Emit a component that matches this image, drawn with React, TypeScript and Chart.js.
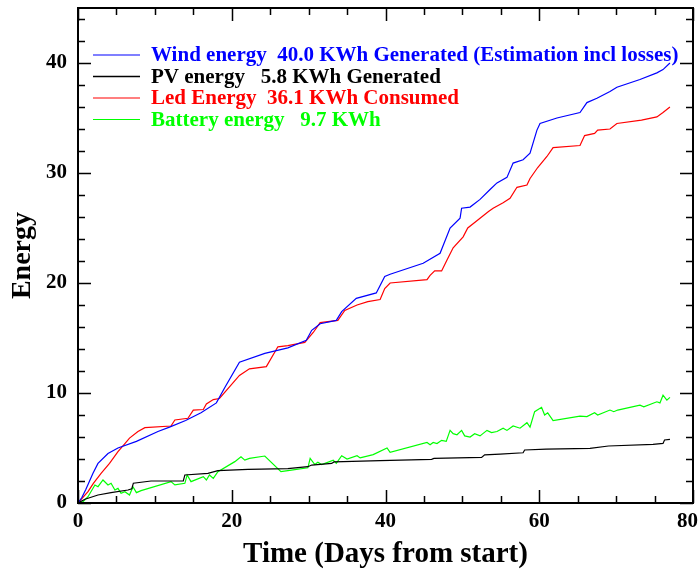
import { useEffect, useRef } from "react";
import { Chart, registerables } from "chart.js";

Chart.register(...registerables);

const FONT = "'Liberation Serif', 'Times New Roman', serif";

const xTitle = "Time (Days from start)";
const yTitle = "Energy";

const legendLabels = [
  "Wind energy  40.0 KWh Generated (Estimation incl losses)",
  "PV energy   5.8 KWh Generated",
  "Led Energy  36.1 KWh Consumed",
  "Battery energy   9.7 KWh",
];
const seriesColors = ["#0000ff", "#000000", "#ff0000", "#00ff00"];

const xMajorTicks = [0, 20, 40, 60, 80];
const yMajorTicks = [0, 10, 20, 30, 40];

const windPts: number[][] = [
  [0, 0], [0.5, 0.5], [1, 1.2], [1.95, 2.7], [2.6, 3.6], [3.9, 4.5], [5.2, 5.0], [7.6, 5.6],
  [10.4, 6.5], [11.9, 6.9], [14, 7.5], [16, 8.2], [18, 9.1], [19.1, 10.5], [21, 12.8],
  [24.3, 13.6], [27.3, 14.1], [29.7, 14.8], [30.4, 15.7], [31.5, 16.3], [33.6, 16.6],
  [34.3, 17.4], [36.2, 18.6], [38.8, 19.1], [39.9, 20.6], [40.6, 20.8], [44.9, 21.8],
  [47.1, 22.7], [48.4, 25.0], [49.7, 25.9], [49.9, 26.8], [51, 26.9], [52.3, 27.6],
  [53.6, 28.5], [54.5, 29.1], [55.8, 29.6], [56.6, 30.9], [57.9, 31.2], [58.8, 31.8],
  [59.7, 33.9], [60.1, 34.5], [62.3, 35.0], [65.3, 35.5], [66.2, 36.4], [67.5, 36.8],
  [69.2, 37.4], [70.1, 37.8], [73.1, 38.5], [75.3, 39.1], [76.1, 39.4], [77, 40.0],
];

const pvPts: number[][] = [
  [0, 0], [0.9, 0.34], [2.6, 0.73], [4.3, 0.94], [6.5, 1.18], [7.0, 1.3], [7.2, 1.8],
  [9.5, 2.0], [13.7, 2.0], [13.9, 2.55], [16.9, 2.7], [18.2, 2.94], [22.1, 3.06],
  [27.3, 3.12], [29.9, 3.3], [30.4, 3.45], [33, 3.6], [33.3, 3.73], [39.3, 3.85],
  [46, 3.97], [46.3, 4.06], [52.5, 4.14], [52.9, 4.38], [54.9, 4.45], [57.9, 4.57],
  [58.1, 4.82], [60.9, 4.9], [66.6, 4.97], [69, 5.18], [74.8, 5.33], [76.1, 5.42],
  [76.3, 5.73], [77, 5.79],
];

const ledPts: number[][] = [
  [0, 0], [1.3, 1.03], [2, 1.79], [3, 2.7], [4.1, 3.6], [5.2, 4.67], [6.1, 5.4], [6.7, 5.9],
  [7.8, 6.5], [8.7, 6.85], [12.1, 7.0], [12.6, 7.55], [14.3, 7.7], [15, 8.45], [16.3, 8.5],
  [16.7, 9.0], [17.6, 9.4], [18.4, 9.5], [21, 11.6], [22.3, 12.2], [24.5, 12.4], [26, 14.2],
  [27.3, 14.3], [29.5, 14.6], [30.6, 15.5], [31.5, 16.4], [33.8, 16.6], [34.7, 17.5],
  [36.3, 18.0], [37.7, 18.3], [39.3, 18.5], [39.9, 19.5], [40.6, 20.0], [45.4, 20.3],
  [45.8, 20.7], [46.4, 21.1], [47.3, 21.1], [48, 22.1], [48.8, 23.2], [50.1, 24.2],
  [50.7, 25.0], [51.6, 25.5], [52.5, 26.0], [53.4, 26.5], [54, 26.8], [55.3, 27.3],
  [56.2, 27.7], [57.1, 28.7], [58.4, 28.9], [58.8, 29.5], [59.8, 30.5], [61, 31.5],
  [61.8, 32.3], [65.3, 32.5], [65.9, 33.4], [67.2, 33.6], [67.6, 33.9], [69.2, 34.0],
  [70.1, 34.5], [73.3, 34.8], [75.3, 35.1], [76.1, 35.5], [77, 36.0],
];

const batteryPts: number[][] = [
  [0, 0], [0.65, 0.12], [1.3, 0.57], [2.2, 1.64], [2.6, 1.48], [3.25, 2.09], [3.9, 1.64],
  [4.3, 1.79], [4.8, 1.18], [5.2, 1.33], [5.6, 0.88], [6.1, 1.03], [6.7, 0.73], [7.15, 1.48],
  [7.6, 0.94], [8.2, 1.12], [12.1, 1.94], [12.6, 1.64], [13.9, 1.79], [14.2, 2.55],
  [14.7, 1.94], [16.3, 2.39], [16.7, 2.09], [17.1, 2.55], [17.6, 2.24], [18.2, 2.85],
  [20.4, 3.76], [21.2, 4.2], [21.7, 3.9], [22.3, 4.06], [24.3, 4.27], [26.4, 2.85],
  [27.3, 2.94], [29.9, 3.2], [30.2, 4.06], [30.8, 3.5], [31.2, 3.7], [31.7, 3.5],
  [33.2, 3.9], [33.6, 3.6], [34.3, 4.3], [35, 4.0], [36.3, 4.3], [36.7, 4.1], [38.4, 4.4],
  [40.2, 5.0], [40.6, 4.6], [45.4, 5.5], [45.8, 5.3], [46.2, 5.5], [46.7, 5.4], [47.3, 5.7],
  [47.9, 5.6], [48.4, 6.6], [48.8, 6.3], [49.3, 6.2], [49.9, 6.6], [50.3, 6.1], [51, 6.0],
  [51.6, 6.3], [52.3, 6.1], [53.2, 6.6], [53.8, 6.4], [54.5, 6.5], [55.3, 6.8], [55.8, 6.6],
  [56.6, 7.0], [57.5, 6.8], [58.4, 7.3], [58.8, 6.9], [59.4, 8.3], [60.3, 8.7], [60.7, 8.0],
  [61.1, 8.2], [61.8, 7.5], [65.3, 7.9], [66.2, 7.85], [67.2, 8.2], [67.6, 8.0], [69.2, 8.45],
  [69.7, 8.3], [70.2, 8.45], [73.1, 8.9], [73.6, 8.75], [75.3, 9.2], [75.7, 9.1], [76.1, 9.8],
  [76.6, 9.35], [77, 9.6],
];

const seriesPts = [windPts, pvPts, ledPts, batteryPts];

const zeroPad = (s: any) => {
  s.paddingTop = 0;
  s.paddingBottom = 0;
  s.paddingLeft = 0;
  s.paddingRight = 0;
};

const framePlugin = {
  id: "frameTicks",
  afterDatasetsDraw(chart: any) {
    const { ctx, chartArea: a, scales } = chart;
    const xs = scales.x;
    const ys = scales.y;
    ctx.save();
    ctx.strokeStyle = "#000";
    ctx.lineWidth = 1.5;
    ctx.beginPath();
    for (let v = 0; v <= 80; v += 5) {
      const px = Math.round(xs.getPixelForValue(v)) + 0.5;
      const len = v % 20 === 0 ? 13 : 7;
      ctx.moveTo(px, a.bottom);
      ctx.lineTo(px, a.bottom - len);
      ctx.moveTo(px, a.top);
      ctx.lineTo(px, a.top + len);
    }
    for (let v = 0; v <= 45; v += 2) {
      const py = Math.round(ys.getPixelForValue(v)) + 0.5;
      const len = v % 10 === 0 ? 13 : 7;
      ctx.moveTo(a.left, py);
      ctx.lineTo(a.left + len, py);
      ctx.moveTo(a.right, py);
      ctx.lineTo(a.right - len, py);
    }
    ctx.stroke();
    ctx.lineWidth = 2;
    ctx.strokeRect(a.left, a.top, a.right - a.left, a.bottom - a.top);

    // last x tick label, kept inside the canvas as in the original
    const lastTick = xMajorTicks[xMajorTicks.length - 1];
    ctx.fillStyle = "#000";
    ctx.font = `bold 21px ${FONT}`;
    ctx.textAlign = "right";
    ctx.textBaseline = "middle";
    ctx.fillText(String(lastTick), chart.width - 1, a.bottom + 6 + 12.6);

    // legend
    ctx.font = `bold 21px ${FONT}`;
    ctx.textBaseline = "middle";
    ctx.textAlign = "left";
    const rowY = [55, 76.5, 98, 119.5];
    legendLabels.forEach((lab, i) => {
      const y = rowY[i];
      ctx.strokeStyle = seriesColors[i];
      ctx.lineWidth = i === 1 ? 1.6 : 1.2;
      ctx.beginPath();
      ctx.moveTo(a.left + 15, y);
      ctx.lineTo(a.left + 62, y);
      ctx.stroke();
      ctx.fillStyle = seriesColors[i];
      ctx.fillText(lab, a.left + 73, y + 1);
    });
    ctx.restore();
  },
};

export default function App() {
  const ref = useRef<HTMLCanvasElement>(null);
  useEffect(() => {
    const chart = new Chart(ref.current!, {
      type: "line",
      data: {
        datasets: seriesPts.map((pts, i) => ({
          label: legendLabels[i],
          data: pts.map(([x, y]) => ({ x, y })),
          borderColor: seriesColors[i],
          backgroundColor: seriesColors[i],
          borderWidth: 1.2,
          pointRadius: 0,
          tension: 0,
          fill: false,
        })),
      },
      options: {
        animation: false,
        responsive: false,
        devicePixelRatio: 1,
        layout: { padding: { left: 0, right: 6, top: 8, bottom: 0 } },
        plugins: { legend: { display: false }, tooltip: { enabled: false } },
        scales: {
          x: {
            type: "linear",
            min: 0,
            max: 80,
            afterBuildTicks: (s: any) => {
              s.ticks = xMajorTicks.map((v) => ({ value: v }));
            },
            afterFit: (s: any) => {
              s.height = 66;
              zeroPad(s);
            },
            ticks: {
              color: "#000",
              padding: 6,
              maxRotation: 0,
              font: { family: FONT, size: 21, weight: "bold" },
              callback: (v: any) => (v === xMajorTicks[xMajorTicks.length - 1] ? "" : String(v)),
            },
            grid: { display: false, drawTicks: false },
            border: { display: false },
            title: {
              display: true,
              text: xTitle,
              color: "#000",
              font: { family: FONT, size: 29, weight: "bold", lineHeight: 1.0 },
              padding: { top: 0, bottom: 0 },
            },
          },
          y: {
            type: "linear",
            min: 0,
            max: 45,
            afterBuildTicks: (s: any) => {
              s.ticks = yMajorTicks.map((v) => ({ value: v }));
            },
            afterFit: (s: any) => {
              s.width = 78;
              zeroPad(s);
            },
            ticks: {
              color: "#000",
              padding: 11,
              font: { family: FONT, size: 21, weight: "bold" },
            },
            grid: { display: false, drawTicks: false },
            border: { display: false },
            title: {
              display: true,
              text: yTitle,
              color: "#000",
              font: { family: FONT, size: 28, weight: "bold", lineHeight: 1.0 },
              padding: { top: 9, bottom: 0 },
            },
          },
        },
      },
      plugins: [framePlugin],
    } as any);
    return () => chart.destroy();
  }, []);
  return (
    <div style={{ position: "fixed", left: 0, top: 0, width: 699, height: 569, background: "#fff" }}>
      <canvas ref={ref} width={699} height={569} style={{ display: "block", width: 699, height: 569 }} />
    </div>
  );
}
